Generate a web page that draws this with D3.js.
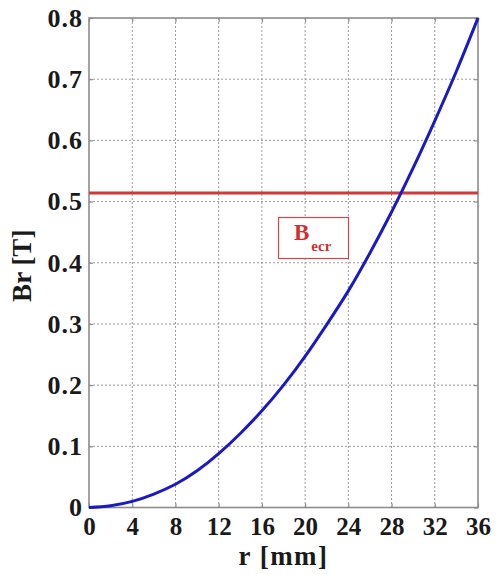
<!DOCTYPE html>
<html><head><meta charset="utf-8"><script src="https://cdn.jsdelivr.net/npm/d3@7"></script></head>
<body style="margin:0">
<svg id="chart" width="502" height="574"></svg>
<script>
// Radial field profile Br(r)
const radius = [0, 2, 4, 6, 8, 10, 12, 14, 16, 18, 20, 22, 24, 26, 28, 30, 32, 34, 36];
const fieldBr = [0, 0.003, 0.010, 0.022, 0.038, 0.060, 0.088, 0.121, 0.158, 0.200, 0.247, 0.299, 0.354, 0.416, 0.483, 0.555, 0.632, 0.713, 0.800];

// ECR resonance field
const bEcr = 0.514;

// Axis ticks
const xTicks = [0, 4, 8, 12, 16, 20, 24, 28, 32, 36];
const yTicks = [0, 0.1, 0.2, 0.3, 0.4, 0.5, 0.6, 0.7, 0.8];
const yTickLabels = ["0", "0.1", "0.2", "0.3", "0.4", "0.5", "0.6", "0.7", "0.8"];

const svg = d3.select("#chart");
const plotL = 89, plotR = 478, plotT = 18, plotB = 507.5;
const serif = "'Liberation Serif'";

const x = d3.scaleLinear().domain([0, 36]).range([plotL, plotR]);
const y = d3.scaleLinear().domain([0, 0.8]).range([plotB, plotT]);

const gridColor = "#9a9a9a";
const frameColor = "#8c8c8c";
const inkColor = "#1a1a1a";

svg.append("rect").attr("width", 502).attr("height", 574).attr("fill", "#fff");

// dotted grid
const grid = svg.append("g");
grid.selectAll("line.gx").data(xTicks.slice(1, -1)).join("line")
  .attr("x1", d => x(d)).attr("x2", d => x(d))
  .attr("y1", plotT).attr("y2", plotB)
  .attr("stroke", gridColor).attr("stroke-width", 1)
  .attr("stroke-dasharray", "2,2");
grid.selectAll("line.gy").data(yTicks.slice(1, -1)).join("line")
  .attr("y1", d => y(d)).attr("y2", d => y(d))
  .attr("x1", plotL).attr("x2", plotR)
  .attr("stroke", gridColor).attr("stroke-width", 1)
  .attr("stroke-dasharray", "2,2");

// axes with inward ticks
const xAxis = svg.append("g").attr("transform", `translate(0,${plotB})`)
  .call(d3.axisBottom(x).tickValues(xTicks).tickSize(-4).tickPadding(10).tickFormat(d3.format("d")));
const xAxisTop = svg.append("g").attr("transform", `translate(0,${plotT})`)
  .call(d3.axisTop(x).tickValues(xTicks).tickSize(-4).tickFormat(""));
const yAxis = svg.append("g").attr("transform", `translate(${plotL},0)`)
  .call(d3.axisLeft(y).tickValues(yTicks).tickSize(-4).tickPadding(6).tickFormat((d, i) => yTickLabels[i]));
const yAxisRight = svg.append("g").attr("transform", `translate(${plotR},0)`)
  .call(d3.axisRight(y).tickValues(yTicks).tickSize(-4).tickFormat(""));

[xAxis, xAxisTop, yAxis, yAxisRight].forEach(g => {
  g.attr("font-family", "Liberation Serif");
  g.select(".domain").remove();
  g.selectAll(".tick line").attr("stroke", frameColor).attr("stroke-width", 1.2);
});
xAxis.selectAll(".tick text")
  .attr("font-family", "Liberation Serif")
  .style("font-family", serif)
  .attr("font-size", 25).attr("font-weight", "bold").attr("fill", inkColor);
yAxis.selectAll(".tick text")
  .attr("font-family", "Liberation Serif")
  .style("font-family", serif)
  .attr("font-size", 26).attr("font-weight", "bold").attr("fill", inkColor)
  .attr("letter-spacing", 1);

// frame
svg.append("rect")
  .attr("x", plotL).attr("y", plotT)
  .attr("width", plotR - plotL).attr("height", plotB - plotT)
  .attr("fill", "none").attr("stroke", frameColor).attr("stroke-width", 1.6);

// ECR line
svg.append("line")
  .attr("x1", x(0)).attr("x2", x(36))
  .attr("y1", y(bEcr)).attr("y2", y(bEcr))
  .attr("stroke", "#d03a3a").attr("stroke-width", 3);

// Br curve
const line = d3.line()
  .x((d, i) => x(radius[i]))
  .y(d => y(d))
  .curve(d3.curveNatural);
svg.append("path")
  .datum(fieldBr)
  .attr("d", line)
  .attr("fill", "none")
  .attr("stroke", "#1a1ac4")
  .attr("stroke-width", 3);

// B_ecr label box
const lbl = svg.append("g");
lbl.append("rect")
  .attr("x", 278.5).attr("y", 217.5).attr("width", 70).attr("height", 41)
  .attr("fill", "#fff").attr("stroke", "#d04848").attr("stroke-width", 1.2);
const lt = lbl.append("text")
  .attr("x", 294).attr("y", 240)
  .attr("font-family", "Liberation Serif")
  .style("font-family", serif)
  .attr("fill", "#d03030").attr("font-weight", "bold");
lt.append("tspan").attr("font-size", 23).text("B");
lt.append("tspan").attr("font-size", 15).attr("dx", 2).attr("dy", 11).text("ecr");

// axis titles
svg.append("text")
  .attr("x", (plotL + plotR) / 2).attr("y", 565)
  .attr("text-anchor", "middle")
  .attr("font-family", "Liberation Serif")
  .style("font-family", serif)
  .attr("font-size", 27).attr("font-weight", "bold").attr("fill", inkColor)
  .attr("letter-spacing", 1.5)
  .text("r [mm]");
svg.append("text")
  .attr("transform", `translate(31,${(plotT + plotB) / 2 + 3}) rotate(-90)`)
  .attr("text-anchor", "middle")
  .attr("font-family", "Liberation Serif")
  .style("font-family", serif)
  .attr("font-size", 27).attr("font-weight", "bold").attr("fill", inkColor)
  .text("Br [T]");
</script>
</body>
</html>
